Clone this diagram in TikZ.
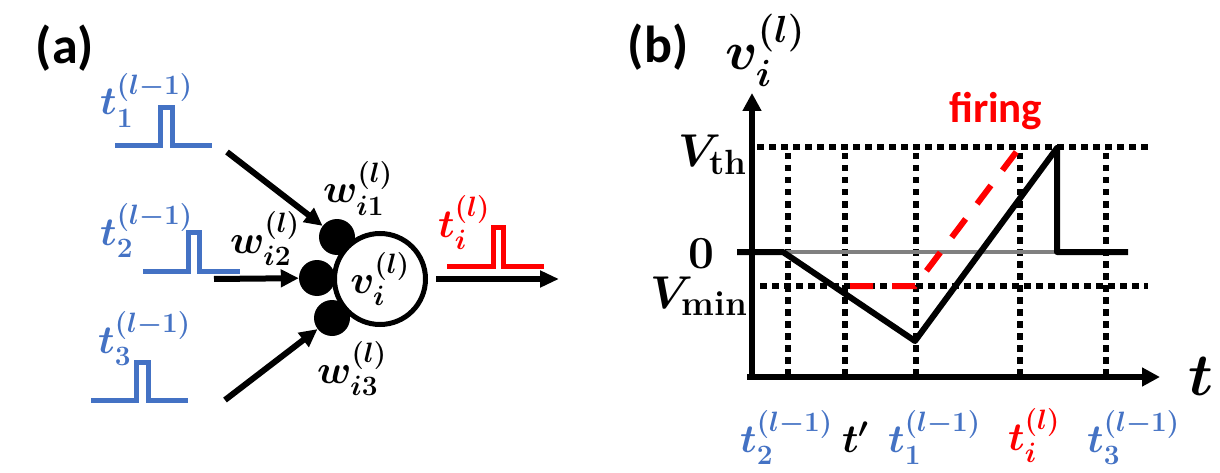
\RequirePackage{fix-cm}
\documentclass[tikz,border=0pt]{standalone}
\usepackage{amsmath}
\usepackage{fontspec}
\newfontfamily\carlito{Carlito}
\usetikzlibrary{arrows.meta}
\definecolor{myblue}{HTML}{4472C4}
\definecolor{myred}{HTML}{FF0000}
\definecolor{mygray}{HTML}{808080}
\newcommand{\sps}[1]{\raisebox{0.15em}{$\scriptstyle #1$}}
\newcommand{\subtxt}[1]{\mbox{\fontsize{35}{38}\selectfont\bfseries #1}}
\begin{document}
\begin{tikzpicture}[x=1pt,y=-1pt,
  lab/.style={inner sep=0pt,anchor=base west,font=\fontsize{40}{44}\selectfont\boldmath},
  axlab/.style={lab,font=\fontsize{46}{50}\selectfont\boldmath},
  panel/.style={inner sep=0pt,font=\carlito\bfseries\fontsize{52}{56}\selectfont},
  pulse/.style={line width=5pt,line join=miter},
  arr/.style={line width=6pt,-{Triangle[length=18pt,width=17pt]}},
  syn/.style={circle,fill=black,minimum size=36pt,inner sep=0pt},
  dotl/.style={line width=6pt,dash pattern=on 6.5pt off 5.5pt},
  axisline/.style={line width=6pt,-{Triangle[length=18pt,width=18pt]}},
  traj/.style={line width=6pt,line join=round}]
\useasboundingbox (0,0) rectangle (1220,473);

% ---------- panel (a)
\node[panel] (pa) at (65,48) {(a)};

% input pulses
\draw[pulse,myblue] (115,146) -- (160,146) -- (160,108) -- (172,108) -- (172,146) -- (212,146);
\draw[pulse,myblue] (143,271) -- (188,271) -- (188,232) -- (199,232) -- (199,271) -- (240,271);
\draw[pulse,myblue] (91,400) -- (136,400) -- (136,362) -- (148,362) -- (148,400) -- (188,400);
\node[lab,text=myblue] (lt1) at (100,115) {$t_1^{\sps{(l-1)}}$};
\node[lab,text=myblue] (lt2) at (100,245) {$t_2^{\sps{(l-1)}}$};
\node[lab,text=myblue] (lt3) at (98,353) {$t_3^{\sps{(l-1)}}$};

% synapses and neuron
\node[syn] (s1) at (337,237) {};
\node[syn] (s2) at (317,278) {};
\node[syn] (s3) at (332,318) {};
\node[circle,draw,line width=5pt,fill=white,minimum size=91pt,inner sep=0pt,
      font=\fontsize{40}{44}\selectfont\boldmath] (n) at (380,279) {$v_i^{\sps{(l)}}$};

\coordinate (a1) at (227,152);
\coordinate (a2) at (214,279);
\coordinate (a3) at (225,400);
\draw[arr] (a1) -- (s1);
\draw[arr] (a2) -- (s2);
\draw[arr] (a3) -- (s3);

\node[lab] (w1) at (323,203) {$w_{i1}^{\sps{(l)}}$};
\node[lab] (w2) at (230,253) {$w_{i2}^{\sps{(l)}}$};
\node[lab] (w3) at (317,383) {$w_{i3}^{\sps{(l)}}$};

% output
\coordinate (out) at (559,279);
\draw[line width=6pt,-{Triangle[length=19pt,width=16pt]},shorten <=8pt] (n) -- (out);
\draw[pulse,myred] (447,266) -- (493,266) -- (493,227) -- (503,227) -- (503,266) -- (544,266);
\node[lab,text=myred] (lti) at (438,237) {$t_i^{\sps{(l)}}$};

% ---------- panel (b)
\node[panel] (pb) at (658,47) {(b)};

\coordinate (ybot) at (752,377);
\coordinate (ytop) at (752,93);
\coordinate (xl) at (747,377);
\coordinate (xr) at (1160,377);

\foreach \x in {788,845,916,1020,1106} \draw[dotl] (\x,153) -- (\x,374);
\draw[dotl] (757,147) -- (1148,147);
\draw[dotl] (760,286) -- (1148,286);

\draw[line width=4pt,mygray] (783,252) -- (1057,252);
\draw[traj] (737,252) -- (783,252) -- (915,341) -- (1057,148) -- (1057,252) -- (1128,252);
\draw[myred,line width=6pt,dash pattern=on 23pt off 19pt] (850,286) -- (915,286) -- (1020,147);

\draw[axisline] (ybot) -- (ytop);
\draw[axisline] (xl) -- (xr);

\node[lab,font=\fontsize{54}{58}\selectfont\boldmath] (vl) at (725,70) {$v_i^{\sps{(l)}}$};
\node[lab,font=\fontsize{60}{64}\selectfont\boldmath] (tl) at (1188,395) {$t$};
\node[axlab] (vth) at (678,167) {$V_{\subtxt{th}}$};
\node[axlab] (zero) at (688,268) {$0$};
\node[axlab] (vmin) at (650,308) {$V_{\subtxt{min}}$};
\node[inner sep=0pt,anchor=base west,text=myred,font=\carlito\bfseries\fontsize{43}{46}\selectfont] (fir) at (949,123) {firing};

\node[lab,text=myblue] (b2) at (740,452) {$t_2^{\sps{(l-1)}}$};
\node[lab] (bp) at (842,452) {$t'$};
\node[lab,text=myblue] (b1) at (888,452) {$t_1^{\sps{(l-1)}}$};
\node[lab,text=myred] (bi) at (1008,450) {$t_i^{\sps{(l)}}$};
\node[lab,text=myblue] (b3) at (1087,452) {$t_3^{\sps{(l-1)}}$};
\end{tikzpicture}
\end{document}
